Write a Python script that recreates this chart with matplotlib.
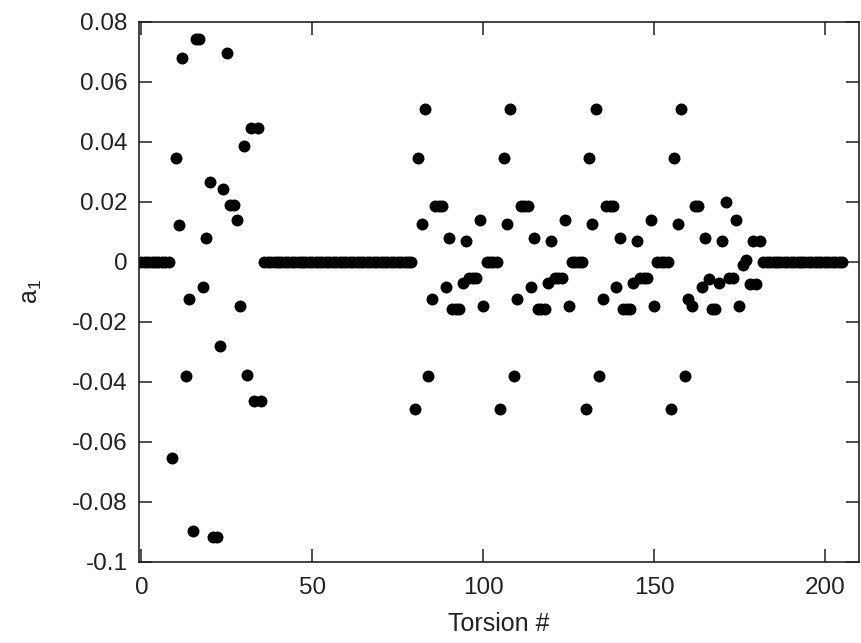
import matplotlib
matplotlib.use("Agg")
import matplotlib.pyplot as plt

plt.rcParams["font.family"] = ["Liberation Sans", "DejaVu Sans"]
plt.rcParams["mathtext.default"] = "regular"

# ---------------------------------------------------------------------
# a1 coefficient per torsion
# ---------------------------------------------------------------------
lead_zeros = [0.0] * 9                       # torsions 0-8
cluster_a = [-0.0654, 0.0348, 0.0123, 0.0681, -0.038, -0.0124, -0.0896,
             0.0742, 0.0742, -0.0082, 0.0079, 0.0267, -0.0918, -0.0918,
             -0.0279, 0.0242, 0.0698, 0.019, 0.019, 0.014, -0.0146,
             0.0388, -0.0376, 0.0448, -0.0463, 0.0448, -0.0463]   # 9-35
gap_zeros = [0.0] * 44                       # 36-79
block_1 = [-0.049, 0.0348, 0.0126, 0.051, -0.0379, -0.0124, 0.0188, 0.0188,
           0.0188, -0.0082, 0.0081, -0.0157, -0.0157, -0.0157, -0.0069,
           0.007, -0.0052, -0.0052, -0.0052, 0.0141, -0.0146, 0.0, 0.0,
           0.0, 0.0]                         # 80-104
block_2 = [-0.049, 0.0348, 0.0126, 0.051, -0.0379, -0.0124, 0.0188, 0.0188,
           0.0188, -0.0082, 0.0081, -0.0157, -0.0157, -0.0157, -0.0069,
           0.007, -0.0052, -0.0052, -0.0052, 0.0141, -0.0146, 0.0, 0.0,
           0.0, 0.0]                         # 105-129
block_3 = [-0.049, 0.0348, 0.0126, 0.051, -0.0379, -0.0124, 0.0188, 0.0188,
           0.0188, -0.0082, 0.0081, -0.0157, -0.0157, -0.0157, -0.0069,
           0.007, -0.0052, -0.0052, -0.0052, 0.0141, -0.0146, 0.0, 0.0,
           0.0, 0.0]                         # 130-154
block_4 = [-0.049, 0.0348, 0.0126, 0.051, -0.0379, -0.0124, -0.0146, 0.0188,
           0.0188, -0.0082, 0.0081, -0.0058, -0.0157, -0.0157, -0.0071,
           0.007, 0.0199, -0.0054, -0.0054, 0.0141, -0.0146, -0.001, 0.0007,
           -0.0073, 0.0071, -0.0073, 0.0071]  # 155-181
tail_zeros = [0.0] * 24                      # 182-205

a1 = lead_zeros + cluster_a + gap_zeros + block_1 + block_2 + block_3 + block_4 + tail_zeros
torsion = list(range(len(a1)))

x_ticks = [0, 50, 100, 150, 200]
y_ticks = [0.08, 0.06, 0.04, 0.02, 0.0, -0.02, -0.04, -0.06, -0.08, -0.1]
y_tick_labels = ["0.08", "0.06", "0.04", "0.02", "0", "-0.02", "-0.04",
                 "-0.06", "-0.08", "-0.1"]

fig = plt.figure(figsize=(8.61, 6.43), dpi=100)
ax = fig.add_axes([0.1614, 0.126, 0.9977 - 0.1614, 0.9658 - 0.126])

ax.plot(torsion, a1, "o", color="black", markersize=8.6, markeredgewidth=0)

ax.set_xlim(-0.7, 210)
ax.set_ylim(-0.1, 0.08)
ax.set_xticks(x_ticks)
ax.set_yticks(y_ticks)
ax.set_yticklabels(y_tick_labels)

ax.tick_params(direction="in", length=9.5, width=1.1, top=True, right=True,
               labelsize=17.5, colors="#222222")
ax.tick_params(axis="x", pad=11)
ax.tick_params(axis="y", pad=8)
for sp in ax.spines.values():
    sp.set_linewidth(1.2)
    sp.set_color("#222222")

ax.set_xlabel("Torsion #", fontsize=18, color="#222222", labelpad=9)
ax.set_ylabel("a$_1$", fontsize=18, color="#222222", labelpad=20)

fig.savefig("out.png", dpi=100, facecolor="white")
